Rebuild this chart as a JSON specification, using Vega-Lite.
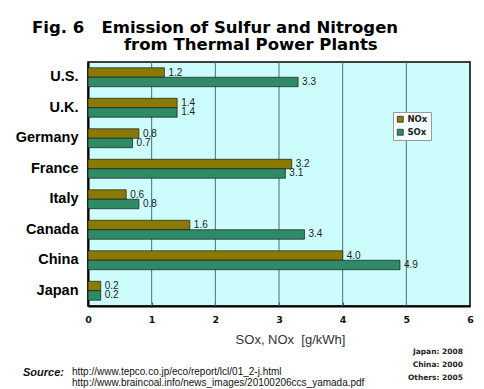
{
  "$schema": "https://vega.github.io/schema/vega-lite/v6.json",
  "width": 382,
  "height": 244,
  "autosize": "none",
  "padding": {"left": 88, "top": 62, "right": 14, "bottom": 83},
  "background": "white",
  "title": {
    "text": "Fig. 6\u00a0\u00a0\u00a0Emission of Sulfur and Nitrogen",
    "subtitle": "\u200b\u00a0\u00a0\u00a0\u00a0\u00a0\u00a0\u00a0\u00a0\u00a0\u00a0\u00a0\u00a0\u00a0\u00a0\u00a0\u00a0from Thermal Power Plants",
    "anchor": "start",
    "frame": "group",
    "dx": -56,
    "offset": 8,
    "font": "DejaVu Sans",
    "fontSize": 16.5,
    "fontWeight": "bold",
    "color": "#000",
    "subtitleFont": "DejaVu Sans",
    "subtitleFontSize": 16.5,
    "subtitleFontWeight": "bold",
    "subtitleColor": "#000",
    "subtitlePadding": 1
  },
  "config": {
    "view": {"fill": "#ccfcfc", "stroke": "#000", "strokeWidth": 1.5}
  },
  "data": {
    "values": [
      {"country": "U.S.", "pollutant": "NOx", "value": 1.2},
      {"country": "U.S.", "pollutant": "SOx", "value": 3.3},
      {"country": "U.K.", "pollutant": "NOx", "value": 1.4},
      {"country": "U.K.", "pollutant": "SOx", "value": 1.4},
      {"country": "Germany", "pollutant": "NOx", "value": 0.8},
      {"country": "Germany", "pollutant": "SOx", "value": 0.7},
      {"country": "France", "pollutant": "NOx", "value": 3.2},
      {"country": "France", "pollutant": "SOx", "value": 3.1},
      {"country": "Italy", "pollutant": "NOx", "value": 0.6},
      {"country": "Italy", "pollutant": "SOx", "value": 0.8},
      {"country": "Canada", "pollutant": "NOx", "value": 1.6},
      {"country": "Canada", "pollutant": "SOx", "value": 3.4},
      {"country": "China", "pollutant": "NOx", "value": 4.0},
      {"country": "China", "pollutant": "SOx", "value": 4.9},
      {"country": "Japan", "pollutant": "NOx", "value": 0.2},
      {"country": "Japan", "pollutant": "SOx", "value": 0.2}
    ]
  },
  "layer": [
    {
      "data": {"values": [{"grid": 1}, {"grid": 2}, {"grid": 3}, {"grid": 4}, {"grid": 5}]},
      "mark": {"type": "rule", "color": "#4f6f73", "strokeWidth": 1},
      "encoding": {
        "x": {"field": "grid", "type": "quantitative"}
      }
    },
    {
      "mark": {"type": "bar", "stroke": "#1a1a1a", "strokeWidth": 0.7},
      "encoding": {
        "y": {
          "field": "country",
          "type": "nominal",
          "sort": ["U.S.", "U.K.", "Germany", "France", "Italy", "Canada", "China", "Japan"],
          "scale": {"paddingInner": 0.38, "paddingOuter": 0.19},
          "axis": {
            "title": null,
            "domain": true,
            "domainColor": "#000",
            "domainWidth": 2,
            "ticks": false,
            "grid": false,
            "labelFont": "Liberation Sans",
            "labelFontSize": 14.5,
            "labelFontWeight": "bold",
            "labelColor": "#000",
            "labelPadding": 10
          }
        },
        "yOffset": {
          "field": "pollutant",
          "type": "nominal",
          "sort": ["NOx", "SOx"],
          "scale": {"paddingInner": 0, "paddingOuter": 0}
        },
        "x": {
          "field": "value",
          "type": "quantitative",
          "title": "SOx, NOx\u00a0\u00a0[g/kWh]",
          "scale": {"domain": [0, 6], "nice": false},
          "axis": {
            "tickCount": 30,
            "format": "d",
            "labelExpr": "abs(datum.value - round(datum.value)) < 0.001 ? datum.label : ''",
            "labelOverlap": false,
            "labelFlush": false,
            "labelFont": "DejaVu Sans",
            "labelFontSize": 9.5,
            "labelFontWeight": "bold",
            "labelColor": "#111",
            "labelPadding": 12,
            "domain": true,
            "domainColor": "#000",
            "domainWidth": 2,
            "tickSize": -4,
            "tickColor": "#333",
            "tickWidth": 0.8,
            "grid": false,
            "titleFont": "Liberation Sans",
            "titleFontSize": 13,
            "titleFontWeight": "normal",
            "titleColor": "#333",
            "titleX": 202,
            "titleY": 37,
            "titleAlign": "center",
            "titleBaseline": "alphabetic"
          }
        },
        "color": {
          "field": "pollutant",
          "type": "nominal",
          "scale": {"domain": ["NOx", "SOx"], "range": ["#8a7a00", "#2e8b66"]},
          "legend": {
            "title": null,
            "orient": "none",
            "legendX": 305,
            "legendY": 50,
            "fillColor": "#f4fefe",
            "strokeColor": "#999",
            "padding": 3,
            "symbolType": "square",
            "symbolSize": 36,
            "symbolStrokeColor": "#222",
            "symbolStrokeWidth": 0.7,
            "labelFont": "DejaVu Sans",
            "labelFontSize": 8.5,
            "labelFontWeight": "bold",
            "labelColor": "#222",
            "labelOffset": 3,
            "rowPadding": 3
          }
        }
      }
    },
    {
      "mark": {"type": "text", "align": "left", "baseline": "middle", "dx": 4, "font": "Liberation Sans", "fontSize": 10, "color": "#222"},
      "encoding": {
        "y": {"field": "country", "type": "nominal", "sort": ["U.S.", "U.K.", "Germany", "France", "Italy", "Canada", "China", "Japan"]},
        "yOffset": {"field": "pollutant", "type": "nominal", "sort": ["NOx", "SOx"]},
        "x": {"field": "value", "type": "quantitative"},
        "text": {"field": "value", "type": "quantitative", "format": ".1f"}
      }
    },
    {
      "data": {"values": [{}]},
      "mark": {"type": "text", "align": "right", "baseline": "top", "dx": -7, "dy": 57, "font": "DejaVu Sans", "fontSize": 7.5, "fontWeight": "bold", "color": "#222", "lineHeight": 13, "text": ["Japan: 2008", "China: 2000", "Others: 2005"]},
      "encoding": {
        "x": {"datum": 6},
        "y": {"datum": "Japan"}
      }
    },
    {
      "data": {"values": [{}]},
      "mark": {"type": "text", "align": "right", "baseline": "top", "dx": -24, "dy": 76, "font": "Liberation Sans", "fontSize": 11, "fontWeight": "bold", "fontStyle": "italic", "color": "#111", "text": "Source:"},
      "encoding": {
        "x": {"datum": 0},
        "y": {"datum": "Japan"}
      }
    },
    {
      "data": {"values": [{}]},
      "mark": {"type": "text", "align": "left", "baseline": "top", "dx": -16, "dy": 76, "font": "Liberation Sans", "fontSize": 10, "color": "#111", "lineHeight": 11, "text": ["http://www.tepco.co.jp/eco/report/lcl/01_2-j.html", "http://www.braincoal.info/news_images/20100206ccs_yamada.pdf"]},
      "encoding": {
        "x": {"datum": 0},
        "y": {"datum": "Japan"}
      }
    }
  ]
}
